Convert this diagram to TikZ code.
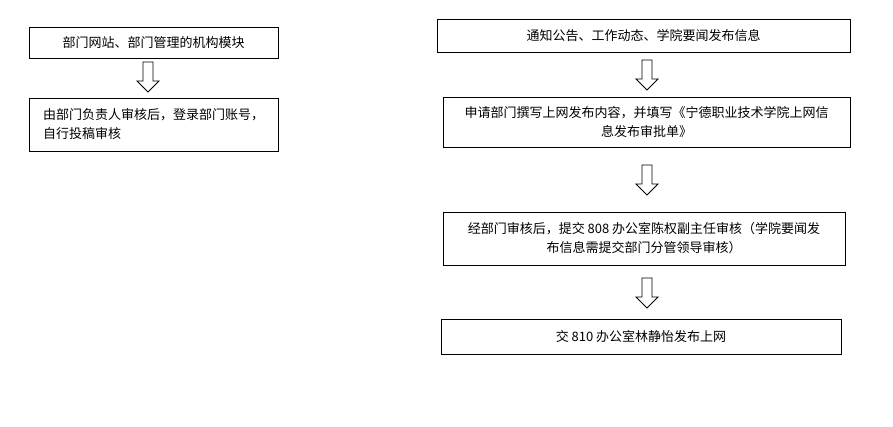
\documentclass[tikz,border=0pt]{standalone}
\usepackage{fontspec}
\setmainfont{Noto Sans CJK SC}
\begin{document}
\begin{tikzpicture}[x=1pt,y=-1pt,
  box/.style={draw,line width=0.8pt,inner sep=0pt,font=\fontsize{13}{19}\selectfont,align=center},
  harrow/.pic={\draw[line width=0.8pt,line join=miter] (-5,-15) -- (5,-15) -- (5,4) -- (11,4) -- (0,15) -- (-11,4) -- (-5,4) -- cycle;}]
\useasboundingbox (0,0) rectangle (893,426);
\node[box,minimum width=249pt,minimum height=31pt] (l1) at (153.5,42.5) {部门网站、部门管理的机构模块};
\coordinate (la) at (148,77); \pic at (la) {harrow};
\node[box,minimum width=249pt,minimum height=53pt,align=left] (l2) at (153.5,124.5) {由部门负责人审核后，登录部门账号，\\自行投稿审核};
\node[box,minimum width=413pt,minimum height=33pt] (r1) at (643.5,35.5) {通知公告、工作动态、学院要闻发布信息};
\coordinate (ra1) at (647,75); \pic at (ra1) {harrow};
\node[box,minimum width=407pt,minimum height=50pt] (r2) at (646.5,122) {申请部门撰写上网发布内容，并填写《宁德职业技术学院上网信\\息发布审批单》};
\coordinate (ra2) at (647,180); \pic at (ra2) {harrow};
\node[box,minimum width=402pt,minimum height=53pt] (r3) at (644,238.5) {经部门审核后，提交 808 办公室陈权副主任审核（学院要闻发\\布信息需提交部门分管领导审核）};
\coordinate (ra3) at (647,293); \pic at (ra3) {harrow};
\node[box,minimum width=400pt,minimum height=35pt] (r4) at (641,336.5) {交 810 办公室林静怡发布上网};
\end{tikzpicture}
\end{document}
